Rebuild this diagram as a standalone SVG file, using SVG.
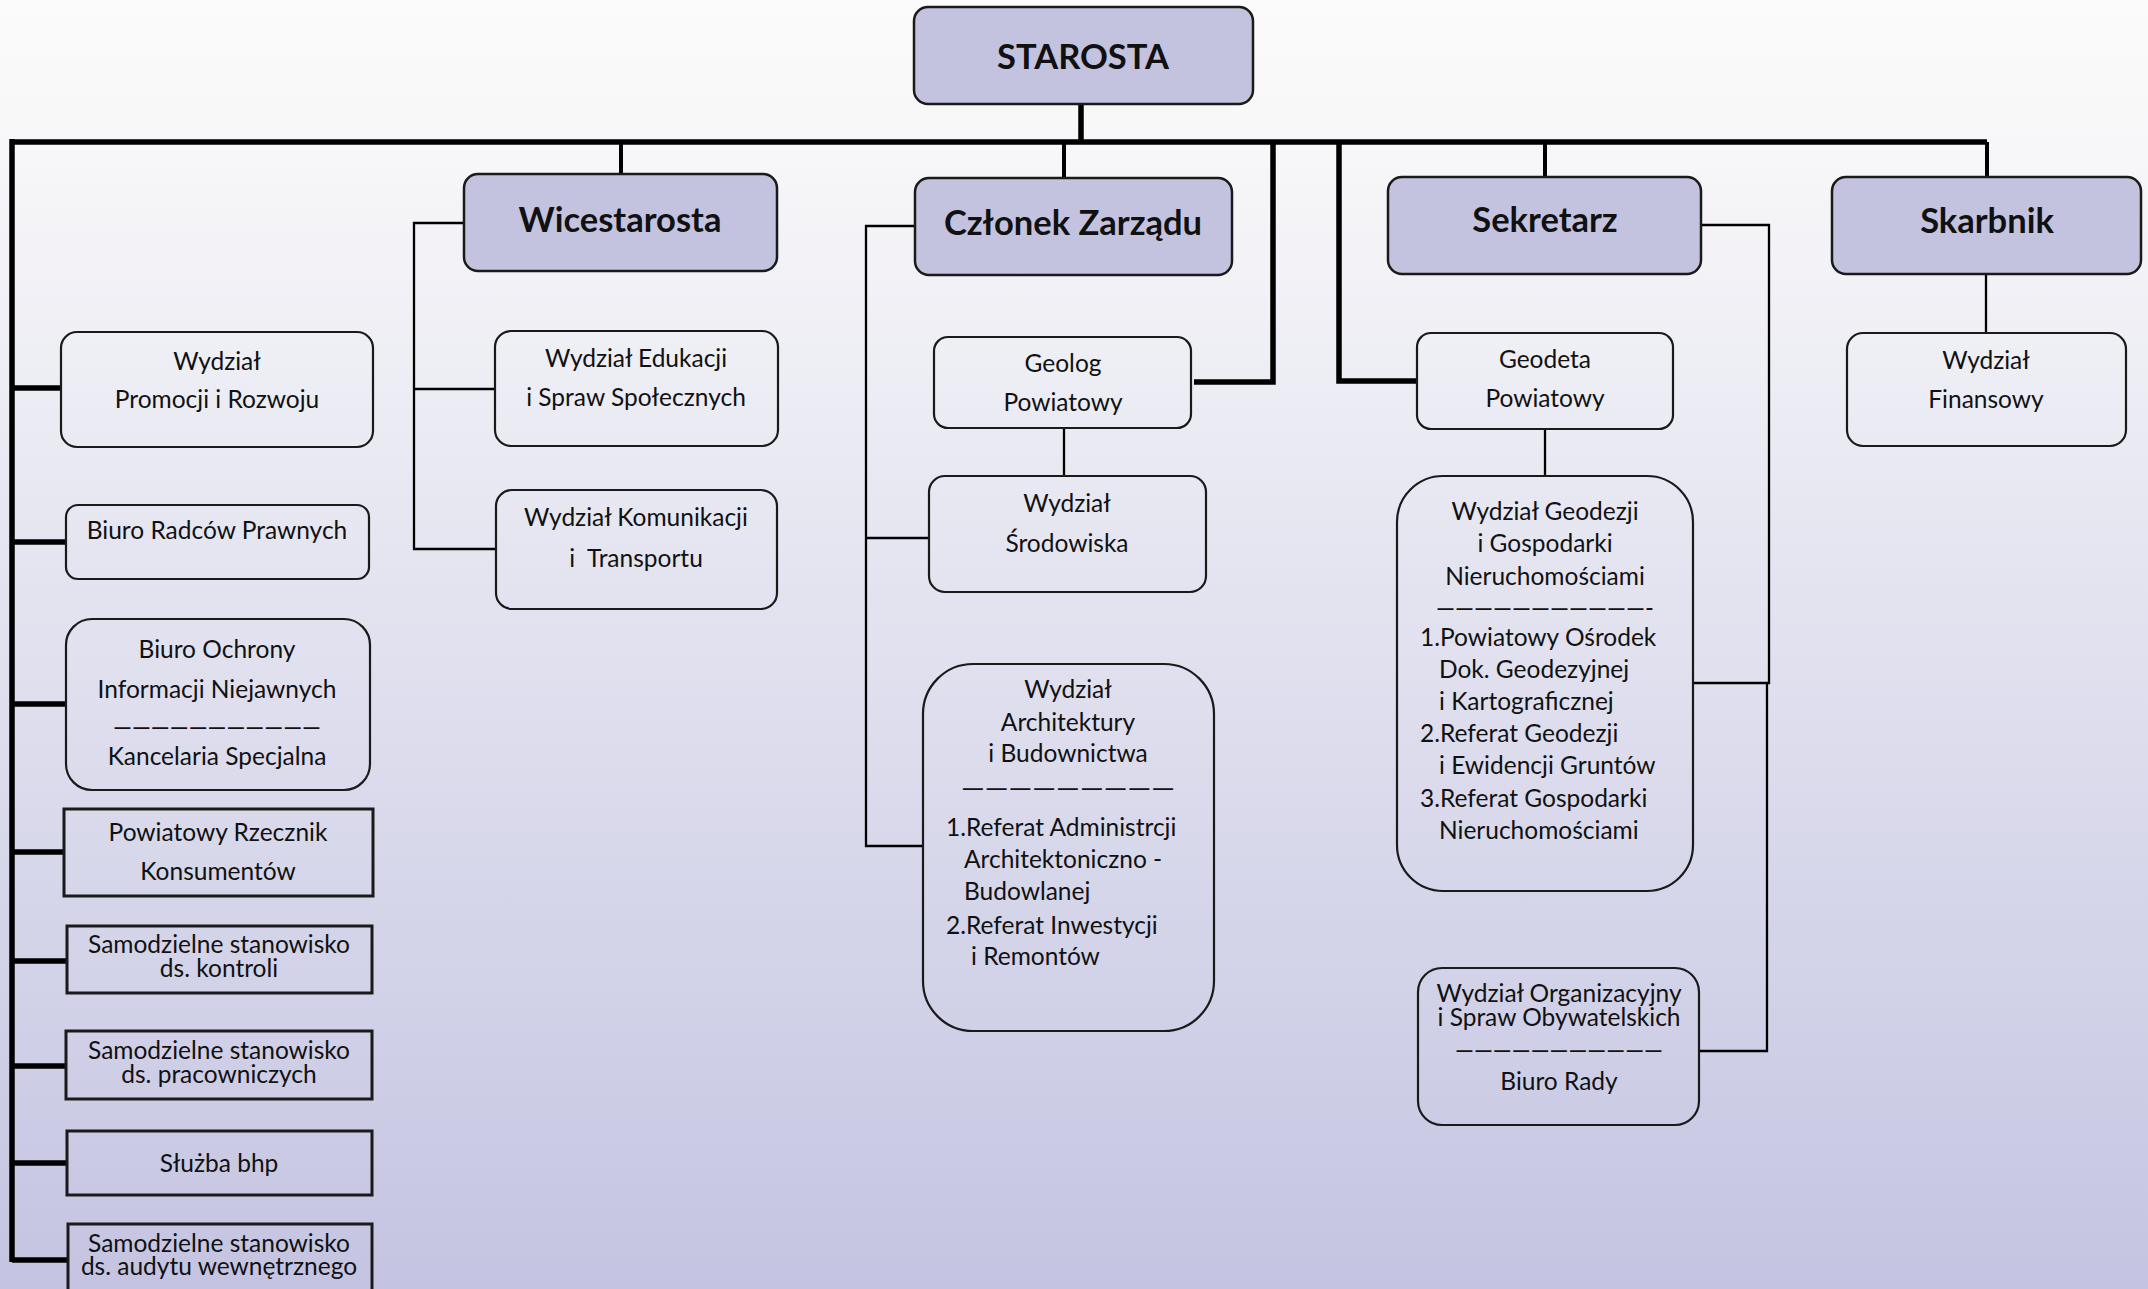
<svg xmlns="http://www.w3.org/2000/svg" width="2148" height="1289" viewBox="0 0 2148 1289">
<defs>
<linearGradient id="bg" x1="0" y1="0" x2="0" y2="1">
<stop offset="0" stop-color="#fbfbfb"/>
<stop offset="0.12" stop-color="#f7f7f9"/>
<stop offset="1" stop-color="#c4c4e2"/>
</linearGradient>
<style>
.hd{fill:#c3c3e0;stroke:#1a1a1a;stroke-width:2.5}
.bx{fill:none;stroke:#1a1a1a;stroke-width:2.2}
.sq{fill:none;stroke:#1a1a1a;stroke-width:3}
.h{font-family:Lato,"Liberation Sans",sans-serif;font-weight:bold;font-size:34.5px;fill:#111;text-anchor:middle}
.t{font-family:Lato,"Liberation Sans",sans-serif;font-size:24.5px;fill:#111;text-anchor:middle}
.l{font-family:Lato,"Liberation Sans",sans-serif;font-size:24.5px;fill:#111}
.k{stroke:#000;fill:none;stroke-width:5.5;stroke-linejoin:miter}
.m{stroke:#000;fill:none;stroke-width:4}
.n{stroke:#000;fill:none;stroke-width:2.3}
</style>
</defs>
<rect width="2148" height="1289" fill="url(#bg)"/>

<g id="connectors">
<path class="k" d="M12 142 H1987 M12 139 V1262"/>
<path class="k" d="M1081 105 V142"/>
<path class="k" d="M1273 142 V382 H1194"/>
<path class="k" d="M1339 142 V381 H1416"/>
<path class="k" d="M12 388 H61 M12 542 H66 M12 704 H66 M12 852 H64 M12 961 H67 M12 1066 H66 M12 1163 H67 M12 1260 H68"/>
<path class="m" d="M621 142 V174 M1064 142 V178 M1545 142 V177 M1987 142 V177"/>
<path class="n" d="M464 223 H414 V549 H496 M414 389 H495"/>
<path class="n" d="M914 226 H866 V846 H923 M866 538 H929"/>
<path class="n" d="M1064 428 V476 M1545 429 V476 M1986 275 V333"/>
<path class="n" d="M1701 225 H1769 V683 H1693 M1767 683 V1051 H1698"/>
</g>

<g id="starosta">
<rect class="hd" x="914" y="7" width="339" height="97" rx="14"/>
<text class="h" x="1083" y="69" font-size="39">STAROSTA</text>
</g>
<g id="wicestarosta">
<rect class="hd" x="464" y="174" width="313" height="97" rx="14"/>
<text class="h" x="620" y="232">Wicestarosta</text>
</g>
<g id="czlonek">
<rect class="hd" x="915" y="178" width="317" height="97" rx="14"/>
<text class="h" x="1073" y="235">Członek Zarządu</text>
</g>
<g id="sekretarz">
<rect class="hd" x="1388" y="177" width="313" height="97" rx="14"/>
<text class="h" x="1545" y="232">Sekretarz</text>
</g>
<g id="skarbnik">
<rect class="hd" x="1832" y="177" width="309" height="97" rx="14"/>
<text class="h" x="1987" y="233">Skarbnik</text>
</g>

<g id="promocji">
<rect class="bx" x="61" y="332" width="312" height="115" rx="16"/>
<text class="t" x="217" y="370">Wydział</text>
<text class="t" x="217" y="408">Promocji i Rozwoju</text>
</g>
<g id="radcow">
<rect class="bx" x="66" y="505" width="303" height="74" rx="12"/>
<text class="t" x="217" y="539">Biuro Radców Prawnych</text>
</g>
<g id="ochrony">
<rect class="bx" x="66" y="619" width="304" height="171" rx="26"/>
<text class="t" x="217" y="658">Biuro Ochrony</text>
<text class="t" x="217" y="698">Informacji Niejawnych</text>
<text class="t" x="217" y="736" textLength="208" lengthAdjust="spacingAndGlyphs">———————————</text>
<text class="t" x="217" y="765">Kancelaria Specjalna</text>
</g>
<g id="rzecznik">
<rect class="sq" x="64" y="809" width="309" height="87"/>
<text class="t" x="218" y="841">Powiatowy Rzecznik</text>
<text class="t" x="218" y="880">Konsumentów</text>
</g>
<g id="kontroli">
<rect class="sq" x="67" y="926" width="305" height="67"/>
<text class="t" x="219" y="953">Samodzielne stanowisko</text>
<text class="t" x="219" y="977">ds. kontroli</text>
</g>
<g id="pracowniczych">
<rect class="sq" x="66" y="1031" width="306" height="68"/>
<text class="t" x="219" y="1059">Samodzielne stanowisko</text>
<text class="t" x="219" y="1083">ds. pracowniczych</text>
</g>
<g id="bhp">
<rect class="sq" x="67" y="1131" width="305" height="64"/>
<text class="t" x="219" y="1172">Służba bhp</text>
</g>
<g id="audyt">
<rect class="sq" x="68" y="1224" width="304" height="80"/>
<text class="t" x="219" y="1252">Samodzielne stanowisko</text>
<text class="t" x="219" y="1275">ds. audytu wewnętrznego</text>
</g>

<g id="edukacji">
<rect class="bx" x="495" y="331" width="283" height="115" rx="16"/>
<text class="t" x="636" y="367">Wydział Edukacji</text>
<text class="t" x="636" y="406">i Spraw Społecznych</text>
</g>
<g id="komunikacji">
<rect class="bx" x="496" y="490" width="281" height="119" rx="16"/>
<text class="t" x="636" y="526">Wydział Komunikacji</text>
<text class="t" x="636" y="567" xml:space="preserve">i  Transportu</text>
</g>

<g id="geolog">
<rect class="bx" x="934" y="337" width="257" height="91" rx="14"/>
<text class="t" x="1063" y="372">Geolog</text>
<text class="t" x="1063" y="411">Powiatowy</text>
</g>
<g id="srodowiska">
<rect class="bx" x="929" y="476" width="277" height="116" rx="16"/>
<text class="t" x="1067" y="512">Wydział</text>
<text class="t" x="1067" y="552">Środowiska</text>
</g>
<g id="architektury">
<rect class="bx" x="923" y="664" width="291" height="367" rx="50"/>
<text class="t" x="1068" y="698">Wydział</text>
<text class="t" x="1068" y="731">Architektury</text>
<text class="t" x="1068" y="762">i Budownictwa</text>
<text class="t" x="1068" y="797" textLength="214" lengthAdjust="spacingAndGlyphs">—————————</text>
<text class="l" x="946" y="836">1.Referat Administrcji</text>
<text class="l" x="964" y="868">Architektoniczno -</text>
<text class="l" x="964" y="900">Budowlanej</text>
<text class="l" x="946" y="934">2.Referat Inwestycji</text>
<text class="l" x="971" y="965">i Remontów</text>
</g>

<g id="geodeta">
<rect class="bx" x="1417" y="333" width="256" height="96" rx="14"/>
<text class="t" x="1545" y="368">Geodeta</text>
<text class="t" x="1545" y="407">Powiatowy</text>
</g>
<g id="geodezji">
<rect class="bx" x="1397" y="476" width="296" height="415" rx="46"/>
<text class="t" x="1545" y="520">Wydział Geodezji</text>
<text class="t" x="1545" y="552">i Gospodarki</text>
<text class="t" x="1545" y="585">Nieruchomościami</text>
<text class="t" x="1545" y="617" textLength="218" lengthAdjust="spacingAndGlyphs">———————————-</text>
<text class="l" x="1420" y="646">1.Powiatowy Ośrodek</text>
<text class="l" x="1439" y="678">Dok. Geodezyjnej</text>
<text class="l" x="1439" y="710">i Kartograficznej</text>
<text class="l" x="1420" y="742">2.Referat Geodezji</text>
<text class="l" x="1439" y="774">i Ewidencji Gruntów</text>
<text class="l" x="1420" y="807">3.Referat Gospodarki</text>
<text class="l" x="1439" y="839">Nieruchomościami</text>
</g>
<g id="organizacyjny">
<rect class="bx" x="1418" y="968" width="281" height="157" rx="24"/>
<text class="t" x="1559" y="1002">Wydział Organizacyjny</text>
<text class="t" x="1559" y="1026">i Spraw Obywatelskich</text>
<text class="t" x="1559" y="1059" textLength="208" lengthAdjust="spacingAndGlyphs">———————————</text>
<text class="t" x="1559" y="1090">Biuro Rady</text>
</g>

<g id="finansowy">
<rect class="bx" x="1847" y="333" width="279" height="113" rx="16"/>
<text class="t" x="1986" y="369">Wydział</text>
<text class="t" x="1986" y="408">Finansowy</text>
</g>
</svg>
